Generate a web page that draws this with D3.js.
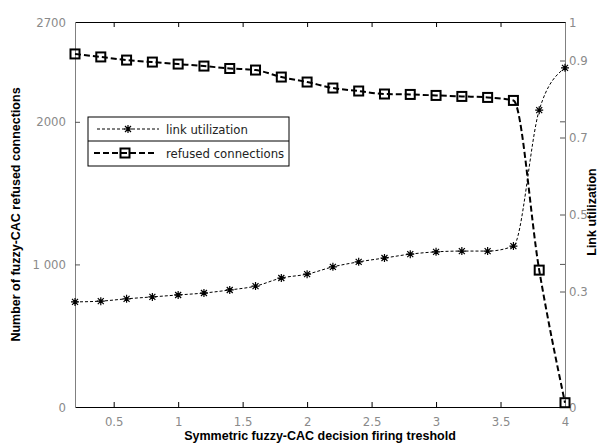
<!DOCTYPE html>
<html><head><meta charset="utf-8">
<script src="https://cdn.jsdelivr.net/npm/d3@7/dist/d3.min.js"></script>
<style>
body{margin:0;background:#fff;}
svg{display:block;}
.tick text{font-family:'Liberation Sans Narrow','Arial Narrow','DejaVu Sans Condensed',sans-serif;font-size:13px;fill:#8a8a8a;}
</style></head>
<body><svg id="c" width="606" height="448"></svg>
<script>
const thresholds = [0.2,0.4,0.6,0.8,1.0,1.2,1.4,1.6,1.8,2.0,2.2,2.4,2.6,2.8,3.0,3.2,3.4,3.6,3.8,4.0];
const refused = [2476,2455,2433,2419,2405,2391,2374,2363,2314,2279,2237,2216,2195,2192,2185,2178,2171,2150,960,30];
const utilization = [0.273,0.275,0.281,0.286,0.291,0.296,0.304,0.314,0.335,0.345,0.364,0.377,0.387,0.397,0.403,0.405,0.405,0.418,0.771,0.881];
const xTicks = [0.5,1,1.5,2,2.5,3,3.5,4];
const leftTicks = [0,1000,2000,2700];
const leftTickLabels = ["0","1 000","2000","2700"];
const rightTicks = [0,0.3,0.5,0.7,0.9,1];
const rightTickLabels = ["0","0.3","0.5","0.7","0.9","1"];
const seriesNames = ["link utilization","refused connections"];
const xTitle = "Symmetric fuzzy-CAC decision firing treshold";
const yLeftTitle = "Number of fuzzy-CAC refused connections";
const yRightTitle = "Link utilization";

const L=75,R=565,T=22,B=407;
const svg=d3.select("#c");
const x=d3.scaleLinear().domain([0.2,4]).range([L,R]);
const yL=d3.scaleLinear().domain([0,2700]).range([B,T]);
const yR=d3.scaleLinear().domain([0,1]).range([B,T]);

// axes
const gB=svg.append("g").attr("transform",`translate(0,${B})`)
  .call(d3.axisBottom(x).tickValues(xTicks).tickFormat(d3.format("")).tickSizeInner(-5).tickSizeOuter(0).tickPadding(10));
const gT=svg.append("g").attr("transform",`translate(0,${T})`)
  .call(d3.axisTop(x).tickValues(xTicks).tickFormat("").tickSizeInner(-5).tickSizeOuter(0));
const gL=svg.append("g").attr("transform",`translate(${L},0)`)
  .call(d3.axisLeft(yL).tickValues(leftTicks).tickFormat((d,i)=>leftTickLabels[i]).tickSizeInner(-5).tickSizeOuter(0).tickPadding(9));
const gR=svg.append("g").attr("transform",`translate(${R},0)`)
  .call(d3.axisRight(yR).tickValues(rightTicks).tickFormat((d,i)=>rightTickLabels[i]).tickSizeInner(-5).tickSizeOuter(0).tickPadding(4));
gB.select(".domain").attr("stroke","#000");
gT.select(".domain").attr("stroke","#000");
gL.select(".domain").attr("stroke","#808080");
gR.select(".domain").attr("stroke","#808080");
gB.selectAll(".tick line").attr("stroke","#000");
gT.selectAll(".tick line").attr("stroke","#000");
gL.selectAll(".tick line").attr("stroke","#555");
gR.selectAll(".tick line").attr("stroke","#555");
gL.selectAll(".tick").filter(d=>d===2700||d===0).select("line").remove();
gR.selectAll(".tick").filter(d=>d===1||d===0).select("line").remove();
// mirrored left ticks on right side
svg.append("g").selectAll("line").data([1000,2000]).join("line")
  .attr("x1",R).attr("x2",R-5).attr("y1",d=>yL(d)).attr("y2",d=>yL(d)).attr("stroke","#555");

// series
const line1=d3.line().x((d,i)=>x(thresholds[i])).y(d=>yR(d)).curve(d3.curveMonotoneX);
const line2=d3.line().x((d,i)=>x(thresholds[i])).y(d=>yL(d)).curve(d3.curveMonotoneX);
svg.append("path").datum(utilization).attr("d",line1).attr("fill","none").attr("stroke","#000").attr("stroke-width",1).attr("stroke-dasharray","3,2");
svg.append("path").datum(refused).attr("d",line2).attr("fill","none").attr("stroke","#000").attr("stroke-width",2).attr("stroke-dasharray","6,3");

function star(g,cx,cy){
  const r=4,q=3;
  g.append("path").attr("d",`M${cx-r},${cy}H${cx+r}M${cx},${cy-r}V${cy+r}M${cx-q},${cy-q}L${cx+q},${cy+q}M${cx-q},${cy+q}L${cx+q},${cy-q}`)
   .attr("stroke","#000").attr("stroke-width",1.2).attr("fill","none");
}
function square(g,cx,cy){
  g.append("rect").attr("x",cx-4.5).attr("y",cy-4.5).attr("width",9).attr("height",9)
   .attr("fill","none").attr("stroke","#000").attr("stroke-width",2);
}
const mk=svg.append("g");
utilization.forEach((d,i)=>star(mk,x(thresholds[i]),yR(d)));
refused.forEach((d,i)=>square(mk,x(thresholds[i]),yL(d)));

// legend
const lg=svg.append("g");
lg.append("rect").attr("x",88).attr("y",117).attr("width",201).attr("height",49).attr("fill","#fff").attr("stroke","#000").attr("stroke-width",1);
lg.append("line").attr("x1",88).attr("x2",289).attr("y1",141).attr("y2",141).attr("stroke","#000");
lg.append("line").attr("x1",97).attr("x2",159).attr("y1",129).attr("y2",129).attr("stroke","#000").attr("stroke-dasharray","3,2");
star(lg,128,129);
lg.append("line").attr("x1",94).attr("x2",156).attr("y1",153).attr("y2",153).attr("stroke","#000").attr("stroke-width",2).attr("stroke-dasharray","6,3");
square(lg,125,153);
lg.selectAll("text").data(seriesNames).join("text")
  .attr("x",166).attr("y",(d,i)=>129+i*24).attr("dy","0.35em")
  .style("font-family","'Liberation Sans Narrow','Arial Narrow','DejaVu Sans Condensed',sans-serif")
  .style("font-size","13px").attr("fill","#222").text(d=>d);

// titles
const tf="'Liberation Sans',Arial,sans-serif";
svg.append("text").attr("x",(L+R)/2).attr("y",440).attr("text-anchor","middle")
  .style("font-family",tf).style("font-weight","bold").style("font-size","12.5px").text(xTitle);
svg.append("text").attr("transform",`translate(20,${(T+B)/2}) rotate(-90)`).attr("text-anchor","middle")
  .style("font-family",tf).style("font-weight","bold").style("font-size","12.5px").text(yLeftTitle);
svg.append("text").attr("transform",`translate(596,${212}) rotate(-90)`).attr("text-anchor","middle")
  .style("font-family",tf).style("font-weight","bold").style("font-size","12.5px").text(yRightTitle);
</script></body></html>
